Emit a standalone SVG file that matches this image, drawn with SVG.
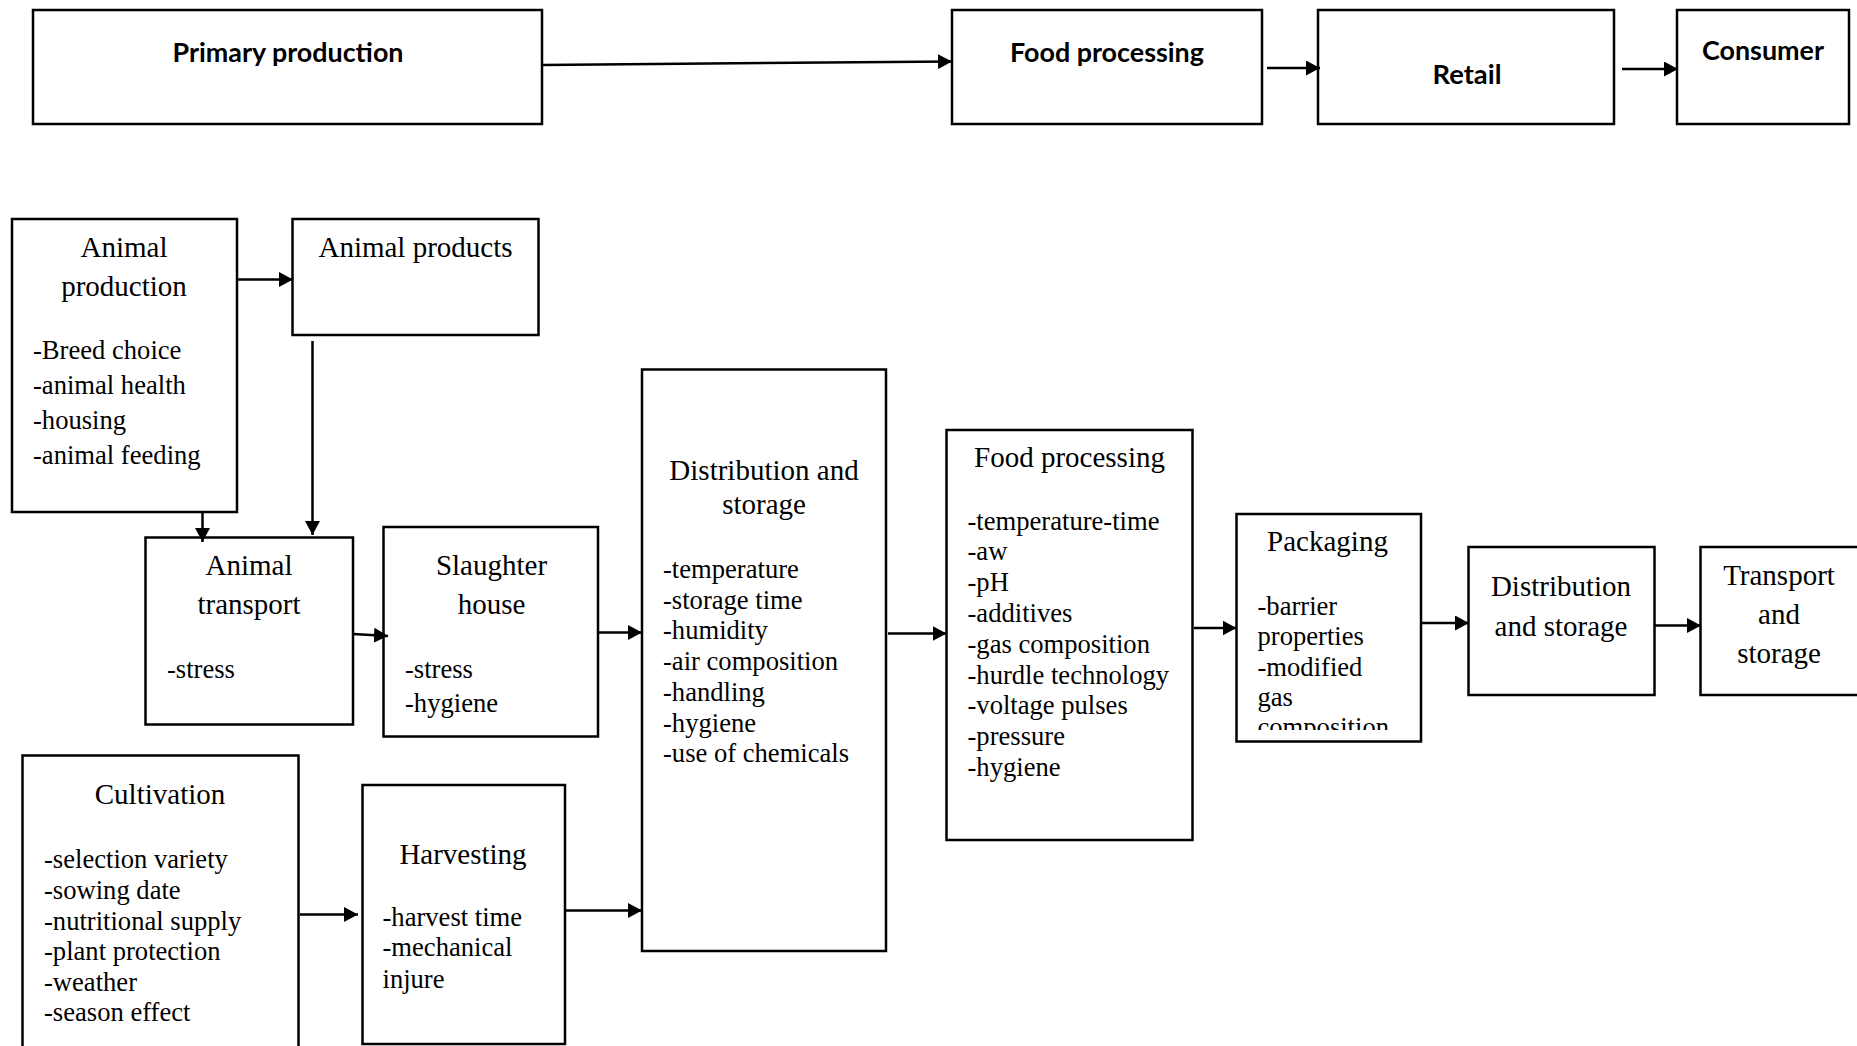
<svg xmlns="http://www.w3.org/2000/svg" width="1857" height="1046" viewBox="0 0 1857 1046">
<style>
.box{fill:#fff;stroke:#000;stroke-width:2.5}
.top{font-family:Lato,"Liberation Sans",sans-serif;font-weight:bold;font-size:26px;fill:#000;text-anchor:middle}
.h{font-family:"Liberation Serif","Times New Roman",serif;font-size:29px;fill:#000;text-anchor:middle}
.i{font-family:"Liberation Serif","Times New Roman",serif;font-size:26.6px;fill:#000}
.c{fill:none;stroke:#000;stroke-width:2.5}
</style>
<defs>
<marker id="ah" viewBox="0 0 14 15" refX="14" refY="7.5" markerWidth="14" markerHeight="15" markerUnits="userSpaceOnUse" orient="auto"><path d="M0,0 L14,7.5 L0,15 Z" fill="#000"/></marker>
<clipPath id="packclip"><rect x="1236" y="514" width="185" height="216"/></clipPath>
</defs>
<rect width="1857" height="1046" fill="#fff"/>

<g id="primary-production"><rect class="box" x="33" y="10" width="509" height="114"/><text class="top" x="288" y="62" textLength="231" lengthAdjust="spacingAndGlyphs">Primary production</text></g>
<g id="top-food-processing"><rect class="box" x="952" y="10" width="310" height="114"/><text class="top" x="1107" y="62" textLength="194" lengthAdjust="spacingAndGlyphs">Food processing</text></g>
<g id="retail"><rect class="box" x="1318" y="10" width="296" height="114"/><text class="top" x="1467" y="84" textLength="69" lengthAdjust="spacingAndGlyphs">Retail</text></g>
<g id="consumer"><rect class="box" x="1677" y="10" width="172" height="114"/><text class="top" x="1763" y="60" textLength="122" lengthAdjust="spacingAndGlyphs">Consumer</text></g>

<g id="animal-production"><rect class="box" x="12" y="219" width="225" height="293"/>
<text class="h" x="124" y="257">Animal</text><text class="h" x="124" y="296">production</text>
<text class="i" x="33" y="359">-Breed choice</text><text class="i" x="33" y="394">-animal health</text><text class="i" x="33" y="429">-housing</text><text class="i" x="33" y="464">-animal feeding</text></g>

<g id="animal-products"><rect class="box" x="292.5" y="219" width="246" height="116"/><text class="h" x="415.5" y="257">Animal products</text></g>

<g id="animal-transport"><rect class="box" x="145.5" y="537.5" width="207.5" height="187"/>
<text class="h" x="249" y="574.5">Animal</text><text class="h" x="249" y="614">transport</text>
<text class="i" x="167" y="678">-stress</text></g>

<g id="slaughter-house"><rect class="box" x="383.5" y="527" width="214.5" height="209.5"/>
<text class="h" x="491.5" y="574.5">Slaughter</text><text class="h" x="491.5" y="613.5">house</text>
<text class="i" x="405" y="677.5">-stress</text><text class="i" x="405" y="712">-hygiene</text></g>

<g id="distribution-storage-1"><rect class="box" x="642" y="369.5" width="244" height="581.5"/>
<text class="h" x="764" y="480">Distribution and</text><text class="h" x="764" y="514">storage</text>
<text class="i" x="663" y="578">-temperature</text><text class="i" x="663" y="608.7">-storage time</text><text class="i" x="663" y="639.4">-humidity</text><text class="i" x="663" y="670">-air composition</text><text class="i" x="663" y="700.8">-handling</text><text class="i" x="663" y="731.5">-hygiene</text><text class="i" x="663" y="762.2">-use of chemicals</text></g>

<g id="food-processing"><rect class="box" x="946.5" y="430" width="246" height="410"/>
<text class="h" x="1069.5" y="466.7">Food processing</text>
<text class="i" x="967.5" y="529.6">-temperature-time</text><text class="i" x="967.5" y="560.4">-aw</text><text class="i" x="967.5" y="591.2">-pH</text><text class="i" x="967.5" y="622">-additives</text><text class="i" x="967.5" y="652.8">-gas composition</text><text class="i" x="967.5" y="683.6">-hurdle technology</text><text class="i" x="967.5" y="714.4">-voltage pulses</text><text class="i" x="967.5" y="745.2">-pressure</text><text class="i" x="967.5" y="776">-hygiene</text></g>

<g id="packaging"><rect class="box" x="1236.5" y="514" width="184.5" height="227.5"/>
<text class="h" x="1327.5" y="550.8">Packaging</text>
<g clip-path="url(#packclip)"><text class="i" x="1257.5" y="615">-barrier</text><text class="i" x="1257.5" y="645.3">properties</text><text class="i" x="1257.5" y="675.6">-modified</text><text class="i" x="1257.5" y="706">gas</text><text class="i" x="1257.5" y="736.3">composition</text></g></g>

<g id="distribution-storage-2"><rect class="box" x="1468.5" y="547" width="186" height="148"/>
<text class="h" x="1561" y="596">Distribution</text><text class="h" x="1561" y="636">and storage</text></g>

<g id="transport-storage"><rect class="box" x="1700.5" y="547" width="170" height="148"/>
<text class="h" x="1779" y="585">Transport</text><text class="h" x="1779" y="624">and</text><text class="h" x="1779" y="663">storage</text></g>

<g id="cultivation"><rect class="box" x="22.5" y="755.5" width="276" height="310"/>
<text class="h" x="160" y="804">Cultivation</text>
<text class="i" x="44" y="868.4">-selection variety</text><text class="i" x="44" y="899">-sowing date</text><text class="i" x="44" y="929.6">-nutritional supply</text><text class="i" x="44" y="960.2">-plant protection</text><text class="i" x="44" y="990.8">-weather</text><text class="i" x="44" y="1021.4">-season effect</text></g>

<g id="harvesting"><rect class="box" x="362.5" y="785" width="202.5" height="259"/>
<text class="h" x="463" y="863.5">Harvesting</text>
<text class="i" x="382.5" y="926.4">-harvest time</text><text class="i" x="382.5" y="956">-mechanical</text><text class="i" x="382.5" y="988">injure</text></g>

<g id="connectors">
<line class="c" x1="542" y1="65" x2="952" y2="61.5" marker-end="url(#ah)"/>
<line class="c" x1="1267" y1="68" x2="1320" y2="68" marker-end="url(#ah)"/>
<line class="c" x1="1622" y1="69" x2="1678" y2="69" marker-end="url(#ah)"/>
<line class="c" x1="237" y1="279.5" x2="293" y2="279.5" marker-end="url(#ah)"/>
<line class="c" x1="202.5" y1="512" x2="202.5" y2="542" marker-end="url(#ah)"/>
<line class="c" x1="312.5" y1="341" x2="312.5" y2="535" marker-end="url(#ah)"/>
<line class="c" x1="353" y1="634" x2="388" y2="636" marker-end="url(#ah)"/>
<line class="c" x1="599" y1="632.5" x2="642" y2="632.5" marker-end="url(#ah)"/>
<line class="c" x1="566" y1="910.5" x2="642" y2="910.5" marker-end="url(#ah)"/>
<line class="c" x1="299.5" y1="914.5" x2="358" y2="914.5" marker-end="url(#ah)"/>
<line class="c" x1="888" y1="633.5" x2="946.5" y2="633.5" marker-end="url(#ah)"/>
<line class="c" x1="1194" y1="628" x2="1236.5" y2="628" marker-end="url(#ah)"/>
<line class="c" x1="1421" y1="623" x2="1469" y2="623" marker-end="url(#ah)"/>
<line class="c" x1="1654.5" y1="625.5" x2="1701" y2="625.5" marker-end="url(#ah)"/>
</g>
</svg>
